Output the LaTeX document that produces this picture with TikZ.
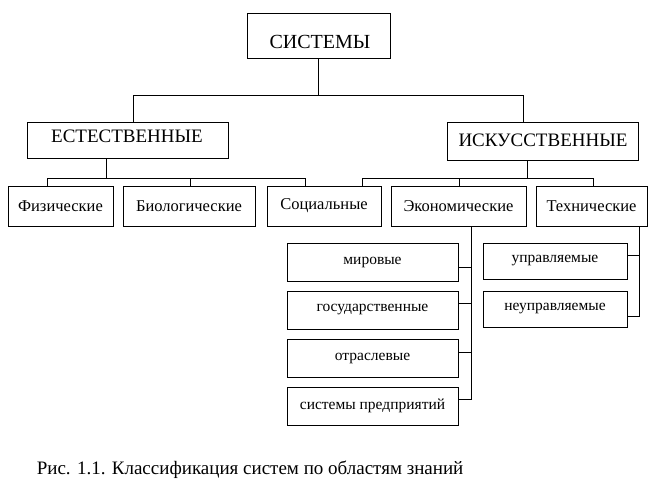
\documentclass[tikz,border=0pt]{standalone}
\usepackage{fontspec}
\setmainfont{Liberation Serif}
\begin{document}
\begin{tikzpicture}[x=1pt,y=-1pt,line width=1pt,
  bx/.style={draw,rectangle,inner sep=0pt},
  ln/.style={draw,line width=1pt}]
\useasboundingbox (0,0) rectangle (653,490);
\newcommand\bxn[6]{\node[bx,minimum width=#4-#3,minimum height=#6-#5,font=#2] (#1) at ({(#3+#4)/2},{(#5+#6)/2}) {};}
\bxn{sys}{}{247}{390}{13}{58}
\node[font=\fontsize{20}{22}\selectfont] (syst) at (320,42) {СИСТЕМЫ};
\bxn{est}{}{27}{228}{122}{158}
\node[font=\fontsize{19}{21}\selectfont] (estt) at (127,136) {ЕСТЕСТВЕННЫЕ};
\bxn{isk}{}{447}{638}{122}{160}
\node[font=\fontsize{19}{21}\selectfont] (iskt) at (543,140) {ИСКУССТВЕННЫЕ};
\tikzset{row/.style={font=\fontsize{16.5}{18}\selectfont}, sm/.style={font=\fontsize{15.5}{17}\selectfont}}
\bxn{fiz}{}{8}{113}{186}{226}\node[row] at (fiz) {Физические};
\bxn{bio}{}{123}{255}{186}{226}\node[row] at (bio) {Биологические};
\bxn{soc}{}{267}{381}{186}{226}\node[row] at (soc) {Социальные};
\bxn{eco}{}{391}{526}{186}{226}\node[row] at (eco) {Экономические};
\bxn{teh}{}{536}{647}{186}{226}\node[row] at (teh) {Технические};
\bxn{mir}{}{287}{458}{243}{281}\node[sm] at (mir) {мировые};
\bxn{gos}{}{287}{458}{291}{329}\node[sm] at (gos) {государственные};
\bxn{otr}{}{287}{458}{339}{377}\node[sm] at (otr) {отраслевые};
\bxn{prd}{}{287}{458}{387}{425}\node[sm] at (prd) {системы предприятий};
\bxn{upr}{}{483}{627}{243}{279}\node[sm] at (upr) {управляемые};
\bxn{neu}{}{483}{627}{291}{327}\node[sm] at (neu) {неуправляемые};
% connectors
\draw (sys.south) -- ++(0,37) coordinate (b1);
\draw (est.north -| 133,0) |- (b1) -| (isk.north -| 523,0);
\draw (est.south -| 106,0) -- (106,178);
\draw (fiz.north -| 47,0) |- (305,178) -- (soc.north -| 305,0);
\draw (bio.north -| 190,0) -- (190,178);
\draw (isk.south -| 527,0) -- (527,178);
\draw (soc.north -| 362,0) |- (593,178) -- (teh.north -| 593,0);
\draw (eco.north -| 459,0) -- (459,178);
\draw (eco.south -| 471,0) |- (prd.east |- 0,399);
\draw (mir.east |- 0,267) -- (471,267);
\draw (gos.east |- 0,303) -- (471,303);
\draw (otr.east |- 0,352) -- (471,352);
\draw (teh.south -| 639,0) |- (neu.east |- 0,316);
\draw (upr.east |- 0,255) -- (639,255);
\node[anchor=west,font=\fontsize{19}{21}\selectfont] (cap) at (33,470) {Рис. 1.1. Классификация систем по областям знаний};
\end{tikzpicture}
\end{document}
